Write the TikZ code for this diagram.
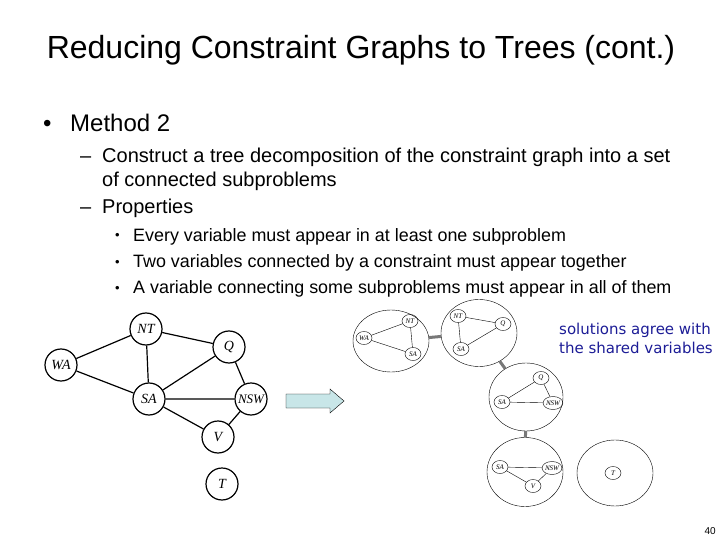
\documentclass[tikz,border=0pt]{standalone}
\usepackage{fontspec}
\setmainfont{Liberation Sans}
\newfontfamily\varfont{Liberation Serif}
\newfontfamily\notefont{DejaVu Sans}
\usetikzlibrary{shapes.geometric}

\definecolor{arrowfill}{RGB}{200,230,232}
\definecolor{noteblue}{RGB}{28,28,150}
\definecolor{linkgray}{RGB}{120,120,120}

\begin{document}
\begin{tikzpicture}[x=1pt,y=-1pt,
  var/.style={draw,circle,line width=1.2pt,minimum size=32pt,inner sep=0pt,font=\fontsize{14}{14}\varfont\itshape},
  bag/.style={draw,ellipse,inner sep=0pt},
  minivar/.style={draw,ellipse,inner sep=0pt,minimum width=16pt,minimum height=13pt,font=\fontsize{7}{7}\varfont\itshape},
  link/.style={line width=3pt,linkgray},
  txt/.style={anchor=base west,inner sep=0pt}]
\useasboundingbox (0,0) rectangle (720,540);

% title and bullets
\node[inner sep=0pt,anchor=base] (title) at (361,59) {\fontsize{32}{32}\selectfont Reducing Constraint Graphs to Trees (cont.)};
\node[txt] (b1) at (43,132) {\fontsize{24}{24}\selectfont\textbullet};
\node[txt] (m2) at (70,132) {\fontsize{24}{24}\selectfont Method 2};
\node[txt] (d1) at (80,163) {\fontsize{20}{20}\selectfont --};
\node[txt] (l1) at (102,163) {\fontsize{20}{20}\selectfont Construct a tree decomposition of the constraint graph into a set};
\node[txt] (l2) at (102,187) {\fontsize{20}{20}\selectfont of connected subproblems};
\node[txt] (d2) at (80,214) {\fontsize{20}{20}\selectfont --};
\node[txt] (l3) at (102,214) {\fontsize{20}{20}\selectfont Properties};
\foreach \y/\t in {241/Every variable must appear in at least one subproblem,
                   267/Two variables connected by a constraint must appear together,
                   293/A variable connecting some subproblems must appear in all of them}{
  \node[txt] at (115,\y-1) {\fontsize{13}{13}\selectfont\textbullet};
  \node[txt] at (133,\y) {\fontsize{17.9}{18}\selectfont \t};
}

% constraint graph
\node[var] (NT) at (146,329) {NT};
\node[var] (Q) at (229,347) {Q};
\node[var] (WA) at (61,365) {WA};
\node[var] (SA) at (149,399) {SA};
\node[var] (NSW) at (251,399) {\fontsize{13}{13}\selectfont NSW};
\node[var] (V) at (218,437) {V};
\node[var] (T) at (222,484) {T};
\draw[line width=1.2pt] (WA) -- (NT) (WA) -- (SA) (NT) -- (SA) (NT) -- (Q) (Q) -- (SA)
  (Q) -- (NSW) (SA) -- (NSW) (SA) -- (V) (NSW) -- (V);

% arrow
\draw[fill=arrowfill] (286,394) -- (330,394) -- (330,389) -- (344,401) -- (330,413) -- (330,408) -- (286,408) -- cycle;

% tree decomposition
\node[bag,minimum width=76pt,minimum height=62pt] (bagA) at (391,341) {};
\node[bag,minimum width=76pt,minimum height=67pt] (bagB) at (479,333) {};
\node[bag,minimum width=74pt,minimum height=68pt] (bagC) at (526,397) {};
\node[bag,minimum width=76pt,minimum height=69pt] (bagD) at (525,472) {};
\node[bag,minimum width=76pt,minimum height=66pt] (bagE) at (615,473) {};
\draw[link] (bagA) -- (bagB);
\draw[link] (bagB) -- (bagC);
\draw[link] (bagC) -- (bagD);

\node[minivar] (aNT) at (410,321) {NT};
\node[minivar] (aWA) at (364,338) {WA};
\node[minivar] (aSA) at (413,354) {SA};
\draw (aWA) -- (aNT) (aWA) -- (aSA) (aNT) -- (aSA);

\node[minivar] (bNT) at (458,316) {NT};
\node[minivar] (bQ) at (503,324) {Q};
\node[minivar] (bSA) at (461,349) {SA};
\draw (bNT) -- (bQ) (bNT) -- (bSA) (bSA) -- (bQ);

\node[minivar] (cQ) at (541,378) {Q};
\node[minivar] (cSA) at (502,402) {SA};
\node[minivar] (cNSW) at (553,403) {NSW};
\draw (cQ) -- (cSA) (cQ) -- (cNSW) (cSA) -- (cNSW);

\node[minivar] (dSA) at (500,467) {SA};
\node[minivar] (dNSW) at (552,468) {NSW};
\node[minivar] (dV) at (533,486) {V};
\draw (dSA) -- (dNSW) (dSA) -- (dV) (dV) -- (dNSW);

\node[minivar] (eT) at (613,473) {T};

% note and page number
\node[txt,text=noteblue,font=\fontsize{15}{15}\notefont] (note1) at (559,334) {solutions agree with};
\node[txt,text=noteblue,font=\fontsize{15}{15}\notefont] (note2) at (559,353) {the shared variables};
\node[anchor=base east,inner sep=0pt,font=\fontsize{10}{10}\selectfont] (page) at (716,534) {40};
\end{tikzpicture}
\end{document}
